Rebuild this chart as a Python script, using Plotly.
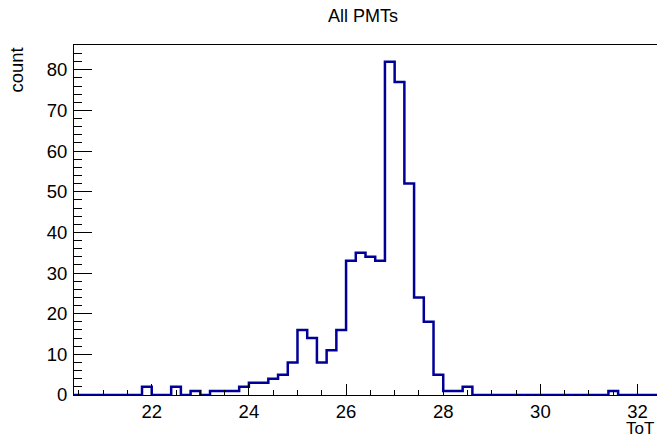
import numpy as np
import plotly.graph_objects as go

# Histogram data: 60 bins of width 0.2 starting at 20.4
bin_start = 20.4
bin_width = 0.2
counts = [
    0, 0, 0, 0, 0, 0, 0,          # 20.4 - 21.8
    2, 0, 0, 2, 0, 1, 0,          # 21.8 - 23.2
    1, 1, 1, 2, 3, 3, 4, 5, 8,    # 23.2 - 25.0
    16, 14, 8, 11, 16,            # 25.0 - 26.0
    33, 35, 34, 33, 82, 77, 52,   # 26.0 - 27.4
    24, 18, 5, 1, 1, 2,           # 27.4 - 28.6
    0, 0, 0, 0, 0, 0, 0, 0, 0, 0, 0, 0, 0, 0,  # 28.6 - 31.4
    1, 0, 0, 0, 0,                # 31.4 - 32.4
]
x_ticks = [22, 24, 26, 28, 30, 32]
y_ticks = [0, 10, 20, 30, 40, 50, 60, 70, 80]

edges = bin_start + bin_width * np.arange(len(counts) + 1)
y_step = counts + [counts[-1]]

W, H = 657, 438
L, R, T, B = 74, 0, 45, 43
pw, ph = W - L - R, H - T - B

def px2paper_x(px):
    return (px - L) / pw

def px2paper_y(py):
    return (H - B - py) / ph

FONT = "Liberation Sans, Arial, Helvetica, sans-serif"
fsize = 18.5

fig = go.Figure()
fig.add_trace(go.Scatter(
    x=edges, y=y_step, mode="lines", line_shape="hv",
    line=dict(color="#000099", width=2.5), hoverinfo="skip",
))

fig.update_layout(
    width=W, height=H,
    margin=dict(l=L, r=R, t=T, b=B, pad=0),
    paper_bgcolor="white", plot_bgcolor="white",
    showlegend=False,
    font=dict(family=FONT, size=fsize, color="black"),
)
fig.update_xaxes(
    range=[edges[0], edges[-1]],
    tickvals=x_ticks, ticktext=[str(v) for v in x_ticks],
    ticks="inside", ticklen=11, tickwidth=1, tickcolor="black",
    minor=dict(ticks="inside", ticklen=5.5, dtick=0.5, tick0=20.5, tickcolor="black", tickwidth=1, showgrid=False),
    showgrid=False, zeroline=False,
    showline=True, linecolor="black", linewidth=1, mirror=True,
    tickfont=dict(family=FONT, size=fsize, color="black"),
    ticklabelstandoff=0,
)
fig.update_yaxes(
    range=[0, max(counts) * 1.05],
    tickvals=y_ticks, ticktext=[str(v) for v in y_ticks],
    ticks="inside", ticklen=18, tickwidth=1, tickcolor="black",
    minor=dict(ticks="inside", ticklen=8, dtick=2, tick0=0, tickcolor="black", tickwidth=1, showgrid=False),
    showgrid=False, zeroline=False,
    showline=True, linecolor="black", linewidth=1, mirror=False,
    tickfont=dict(family=FONT, size=fsize, color="black"),
    ticklabelstandoff=2,
)

fig.add_annotation(text="All PMTs", xref="paper", yref="paper",
                   x=px2paper_x(363), y=px2paper_y(16), xanchor="center", yanchor="middle",
                   showarrow=False, font=dict(family=FONT, size=18, color="black"))
fig.add_annotation(text="ToT", xref="paper", yref="paper",
                   x=px2paper_x(656), y=px2paper_y(428), xanchor="right", yanchor="middle",
                   showarrow=False, font=dict(family=FONT, size=17, color="black"))
fig.add_annotation(text="count", xref="paper", yref="paper", textangle=-90,
                   x=px2paper_x(16), y=px2paper_y(46), xanchor="center", yanchor="top",
                   showarrow=False, font=dict(family=FONT, size=fsize, color="black"))

fig.write_html("out.html")
